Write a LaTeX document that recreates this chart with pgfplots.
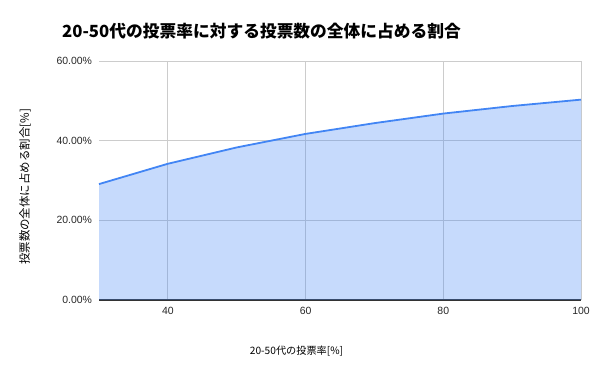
\documentclass[border=0pt]{standalone}
\usepackage{pgfplots}
\pgfplotsset{compat=1.18}
\usepackage{fontspec}
\setmainfont{Liberation Sans}
\newfontfamily\cjk{Noto Sans CJK JP}
\definecolor{gblue}{HTML}{4285F4}
\definecolor{gridc}{HTML}{CCCCCC}
\definecolor{axc}{HTML}{333333}
\begin{document}
\begin{tikzpicture}[x=1bp,y=1bp]
\begin{axis}[
  at={(99bp,71bp)}, anchor=south west,
  scale only axis, width=482bp, height=239bp,
  xmin=30, xmax=100, ymin=0, ymax=60,
  xtick={40,60,80,100}, ytick={0,20,40,60},
  grid=major,
  major grid style={gridc, line width=0.8bp},
  major tick length=0pt,
  axis x line*=bottom, axis y line*=left,
  x axis line style={axc, line width=1.2bp, -},
  y axis line style={draw=none},
  /pgf/number format/assume math mode=true,
  tick label style={font=\fontsize{10.5}{12}\selectfont, text=black!85},
  yticklabel={\pgfmathprintnumber[fixed,fixed zerofill,precision=2]{\tick}\%},
  yticklabel style={anchor=east, xshift=-3.5bp},
  xticklabel style={anchor=north, yshift=-4bp},
  clip=false,
]
\addplot[fill=gblue, fill opacity=0.3, draw=none] coordinates {
  (30,29.1) (40,34.2) (50,38.3) (60,41.7) (70,44.4) (80,46.8) (90,48.7) (100,50.3)
} \closedcycle;
\addplot[gblue, line width=1.8bp] coordinates {
  (30,29.1) (40,34.2) (50,38.3) (60,41.7) (70,44.4) (80,46.8) (90,48.7) (100,50.3)
};
\end{axis}
\node[anchor=west, inner sep=0pt] at (62bp,339.5bp) {\cjk\bfseries\fontsize{16.8}{18}\selectfont 20-50代の投票率に対する投票数の全体に占める割合};
\node[inner sep=0pt] at (296.5bp,19.5bp) {\cjk\fontsize{10.2}{12}\selectfont 20-50代の投票率[\%]};
\node[inner sep=0pt, rotate=90] at (25bp,184bp) {\cjk\fontsize{11.5}{12}\selectfont 投票数の全体に占める割合[\%]};
\pgfresetboundingbox
\path[use as bounding box] (0,0) rectangle (600bp,371bp);
\end{tikzpicture}
\end{document}
